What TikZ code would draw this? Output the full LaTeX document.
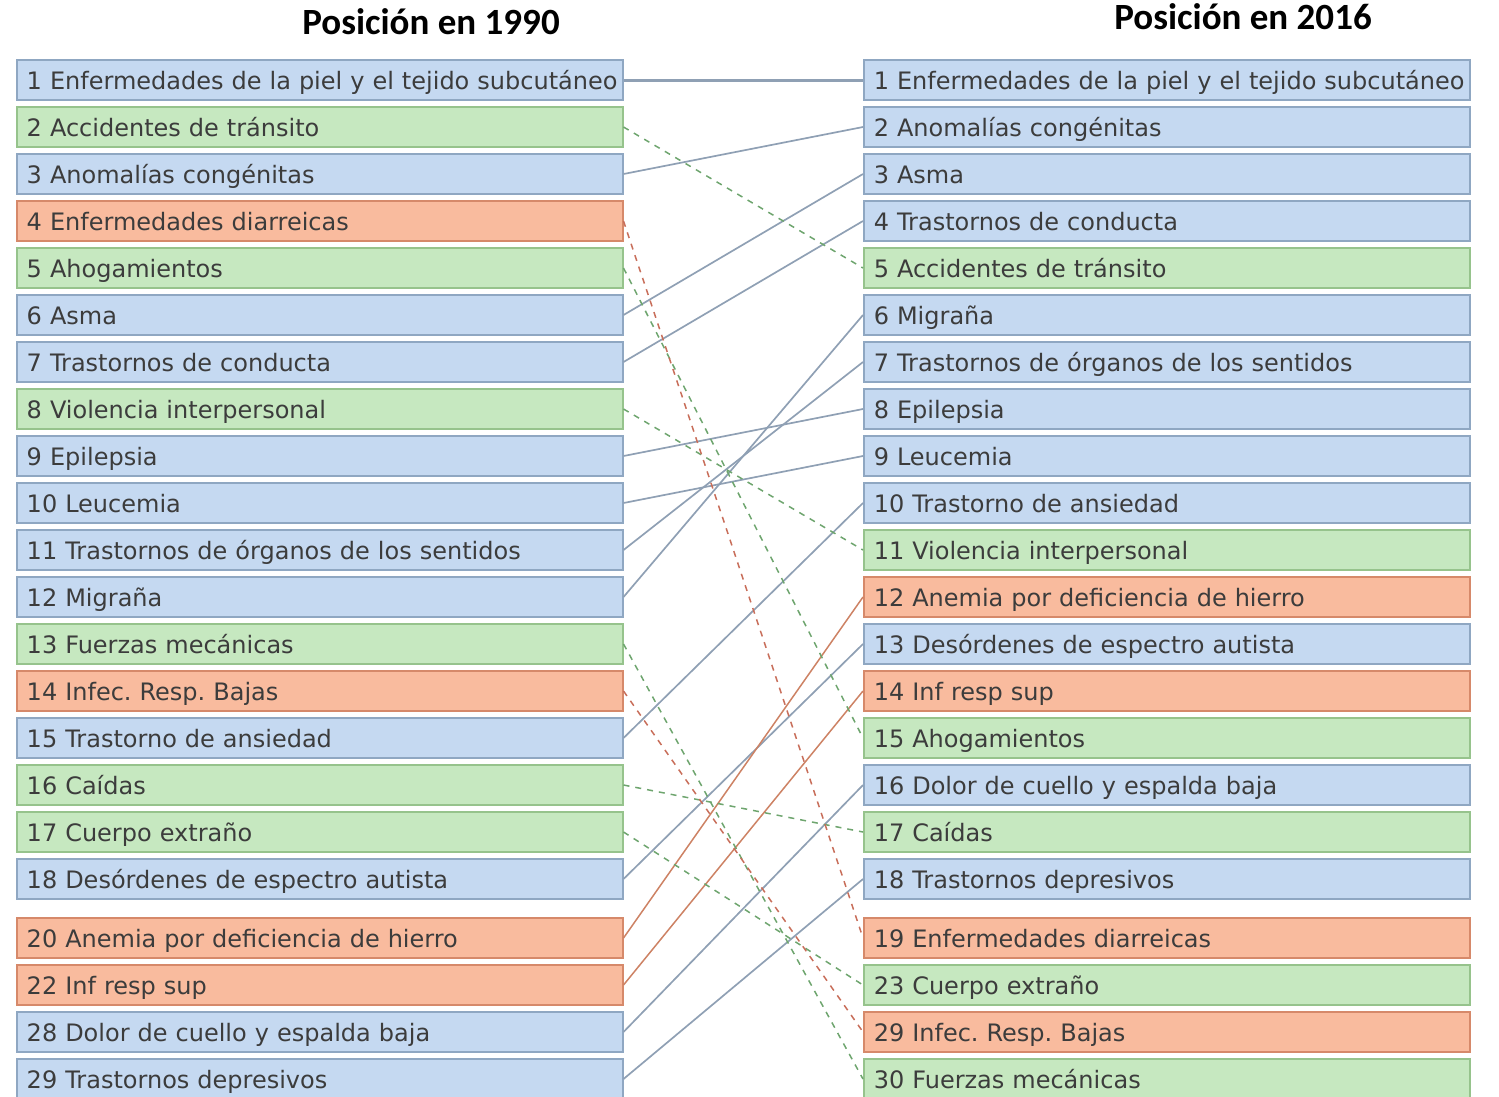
\documentclass[tikz,border=0pt]{standalone}
\usepackage{fontspec}
\setmainfont{DejaVu Sans}
\newfontfamily\titlefont{Carlito}
\usetikzlibrary{positioning}

% Colores
\definecolor{azulfondo}{RGB}{197,217,241}
\definecolor{azulborde}{RGB}{143,167,194}
\definecolor{verdefondo}{RGB}{198,232,192}
\definecolor{verdeborde}{RGB}{150,195,140}
\definecolor{naranjafondo}{RGB}{249,187,158}
\definecolor{naranjaborde}{RGB}{214,137,106}
\definecolor{lineaazul}{RGB}{143,160,180}
\definecolor{lineanaranja}{RGB}{205,130,100}
\definecolor{lineaverde}{RGB}{110,165,110}
\definecolor{linearoja}{RGB}{200,110,90}
\definecolor{texto}{RGB}{60,60,60}

% Altura fija para las filas
\newcommand{\altura}{\rule[-8pt]{0pt}{34pt}}

\begin{document}
\frenchspacing
\begin{tikzpicture}[x=1pt, y=-1pt,
  fila/.style={draw, line width=1.5pt, minimum height=40pt, text width=586pt,
    inner xsep=10pt, inner ysep=0pt, anchor=west, align=left,
    font=\fontsize{24}{28}\selectfont, text=texto},
  azul/.style={fila, fill=azulfondo, draw=azulborde},
  verde/.style={fila, fill=verdefondo, draw=verdeborde},
  naranja/.style={fila, fill=naranjafondo, draw=naranjaborde},
  sube/.style={draw=lineaazul, line width=1.7pt},
  subenar/.style={draw=lineanaranja, line width=1.5pt},
  bajaverde/.style={draw=lineaverde, line width=1.5pt, dash pattern=on 6pt off 6pt},
  bajaroja/.style={draw=linearoja, line width=1.5pt, dash pattern=on 6pt off 6pt},
  titulo/.style={font=\titlefont\bfseries\fontsize{37}{40}\selectfont}]

\useasboundingbox (0,0) rectangle (1499,1096);

% Titulos
\node[titulo] (t1990) at (431,22) {Posición en 1990};
\node[titulo] (t2016) at (1243,17) {Posición en 2016};

% Posiciones en 1990
\foreach \n/\y/\c/\t in {
  1/80/azul/{1 Enfermedades de la piel y el tejido subcutáneo},
  2/127/verde/{2 Accidentes de tránsito},
  3/174/azul/{3 Anomalías congénitas},
  4/221/naranja/{4 Enfermedades diarreicas},
  5/268/verde/{5 Ahogamientos},
  6/315/azul/{6 Asma},
  7/362/azul/{7 Trastornos de conducta},
  8/409/verde/{8 Violencia interpersonal},
  9/456/azul/{9 Epilepsia},
  10/503/azul/{10 Leucemia},
  11/550/azul/{11 Trastornos de órganos de los sentidos},
  12/597/azul/{12 Migraña},
  13/644/verde/{13 Fuerzas mecánicas},
  14/691/naranja/{14 Infec. Resp. Bajas},
  15/738/azul/{15 Trastorno de ansiedad},
  16/785/verde/{16 Caídas},
  17/832/verde/{17 Cuerpo extraño},
  18/879/azul/{18 Desórdenes de espectro autista},
  20/938/naranja/{20 Anemia por deficiencia de hierro},
  22/985/naranja/{22 Inf resp sup},
  28/1032/azul/{28 Dolor de cuello y espalda baja},
  29/1079/azul/{29 Trastornos depresivos}}
  \node[\c] (l\n) at (16,\y) {\mbox{\altura\t}};

% Posiciones en 2016
\foreach \n/\y/\c/\t in {
  1/80/azul/{1 Enfermedades de la piel y el tejido subcutáneo},
  2/127/azul/{2 Anomalías congénitas},
  3/174/azul/{3 Asma},
  4/221/azul/{4 Trastornos de conducta},
  5/268/verde/{5 Accidentes de tránsito},
  6/315/azul/{6 Migraña},
  7/362/azul/{7 Trastornos de órganos de los sentidos},
  8/409/azul/{8 Epilepsia},
  9/456/azul/{9 Leucemia},
  10/503/azul/{10 Trastorno de ansiedad},
  11/550/verde/{11 Violencia interpersonal},
  12/597/naranja/{12 Anemia por deficiencia de hierro},
  13/644/azul/{13 Desórdenes de espectro autista},
  14/691/naranja/{14 Inf resp sup},
  15/738/verde/{15 Ahogamientos},
  16/785/azul/{16 Dolor de cuello y espalda baja},
  17/832/verde/{17 Caídas},
  18/879/azul/{18 Trastornos depresivos},
  19/938/naranja/{19 Enfermedades diarreicas},
  23/985/verde/{23 Cuerpo extraño},
  29/1032/naranja/{29 Infec. Resp. Bajas},
  30/1079/verde/{30 Fuerzas mecánicas}}
  \node[\c] (r\n) at (863,\y) {\mbox{\altura\t}};

% Conexiones
\draw[sube, line width=3pt] (l1.east) -- (r1.west);
\foreach \a/\b in {3/2, 6/3, 7/4, 9/8, 10/9, 11/7, 12/6, 15/10, 18/13, 28/16, 29/18}
  \draw[sube] (l\a.east) -- (r\b.west);
\foreach \a/\b in {20/12, 22/14}
  \draw[subenar] (l\a.east) -- (r\b.west);
\foreach \a/\b in {2/5, 5/15, 8/11, 13/30, 16/17, 17/23}
  \draw[bajaverde] (l\a.east) -- (r\b.west);
\foreach \a/\b in {4/19, 14/29}
  \draw[bajaroja] (l\a.east) -- (r\b.west);

\end{tikzpicture}
\end{document}
